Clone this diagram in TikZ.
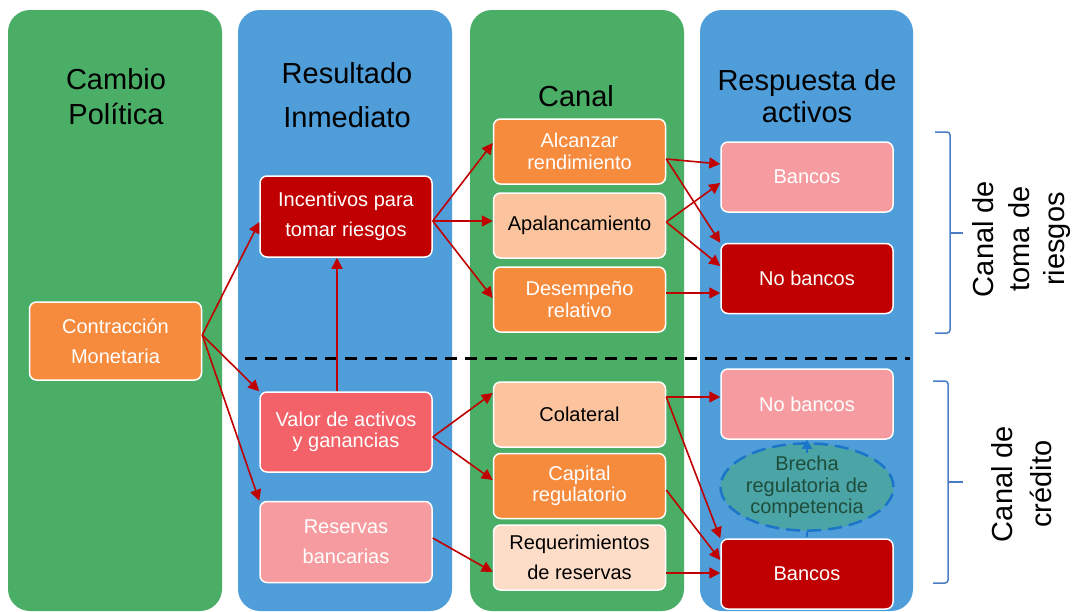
\documentclass[tikz,border=0pt]{standalone}
\usepackage{fontspec}
\setmainfont{Liberation Sans}
\usetikzlibrary{arrows.meta,shapes.geometric}
\definecolor{cgreen}{HTML}{4BAE66}
\definecolor{cblue}{HTML}{4F9DD9}
\definecolor{corange}{HTML}{F68B3E}
\definecolor{cdark}{HTML}{C00000}
\definecolor{csalmon}{HTML}{F26268}
\definecolor{cpink}{HTML}{F69CA0}
\definecolor{cpeach}{HTML}{FBC49E}
\definecolor{clpeach}{HTML}{FDDDC8}
\definecolor{cteal}{HTML}{4BA4A6}
\definecolor{cdash}{HTML}{1B75C9}
\definecolor{cetext}{HTML}{1E4E3B}
\definecolor{cbrace}{HTML}{4A7EC4}
\begin{document}
\begin{tikzpicture}[x=1pt,y=-1pt,
  column/.style={rounded corners=22pt},
  box/.style={rectangle, rounded corners=7pt, draw=white, line width=1.5pt,
    minimum width=172pt, inner sep=1pt, align=center, text=white},
  wide/.style={font=\fontsize{20}{30}\selectfont},
  tight/.style={font=\fontsize{20}{21.5}\selectfont},
  title/.style={font=\fontsize{29}{35}\selectfont, anchor=base},
  side/.style={font=\fontsize{29}{35}\selectfont, anchor=base, rotate=90},
  arr/.style={draw=cdark, line width=1.6pt, -{Triangle[length=11pt,width=11pt]}},
  barr/.style={draw=cdash, line width=2.5pt, -{Triangle[length=9pt,width=10pt]}},
  brace/.style={draw=cbrace, line width=1.5pt, rounded corners=3pt}
]
\useasboundingbox (0,0) rectangle (1074,611);
\fill[white] (0,0) rectangle (1074,611);

% columns
\fill[cgreen, column] (8,10) rectangle (222,611);
\fill[cblue, column] (238,10) rectangle (452,611);
\fill[cgreen, column] (470,10) rectangle (684,611);
\fill[cblue, column] (700,10) rectangle (913,611);

% titles
\node[title] (t1a) at (116,89) {Cambio};
\node[title] (t1b) at (116,124) {Política};
\node[title] (t2a) at (347,83) {Resultado};
\node[title] (t2b) at (347,127) {Inmediato};
\node[title] (t3a) at (576,106) {Canal};
\node[title] (t4a) at (807,90) {Respuesta de};
\node[title] (t4b) at (807,122) {activos};

% dashed separator
\draw[black, line width=3pt, dash pattern=on 12pt off 8pt] (245,358) -- (910,358);

% boxes
\node[box, wide, fill=corange, minimum height=78pt] (ctr) at (115.5,341) {Contracción\\Monetaria};
\node[box, wide, fill=cdark, minimum height=81pt] (inc) at (346,216.5) {Incentivos para\\tomar riesgos};
\node[box, tight, fill=csalmon, minimum height=80pt] (val) at (346,432) {Valor de activos\\y ganancias};
\node[box, wide, fill=cpink, minimum height=81pt] (res) at (346,542) {Reservas\\bancarias};

\node[box, tight, fill=corange, minimum height=65pt] (alc) at (579.5,151.5) {Alcanzar\\rendimiento};
\node[box, tight, fill=cpeach, text=black, minimum height=65pt] (apa) at (579.5,225.5) {Apalancamiento};
\node[box, tight, fill=corange, minimum height=65pt] (des) at (579.5,299.5) {Desempeño\\relativo};
\node[box, tight, fill=cpeach, text=black, minimum height=65pt] (col) at (579.5,414.5) {Colateral};
\node[box, tight, fill=corange, minimum height=65pt] (cap) at (579.5,486) {Capital\\regulatorio};
\node[box, wide, fill=clpeach, text=black, minimum height=65pt] (req) at (579.5,557.5) {Requerimientos\\de reservas};

\node[box, tight, fill=cpink, minimum height=70pt] (ban1) at (807,177) {Bancos};
\node[box, tight, fill=cdark, minimum height=70pt] (nob1) at (807,278.5) {No bancos};
\node[box, tight, fill=cpink, minimum height=70pt] (nob2) at (807,404) {No bancos};
\node[box, tight, fill=cdark, minimum height=70pt] (ban2) at (807,574) {Bancos};

% gap ellipse and blue arrow
\node[ellipse, fill=cteal, draw=cdash, line width=2.5pt, dash pattern=on 14pt off 7pt,
  minimum width=171pt, minimum height=80pt, inner sep=0pt, align=center, text=cetext,
  tight] (gap) at (807,487) {Brecha\\regulatoria de\\competencia};
\draw[barr] ([yshift=-11pt]gap.north) -- (nob2.south);
\draw[draw=cdash, line width=2.5pt] (gap.south) -- ([yshift=-5pt]gap.south);

% red arrows
\draw[arr] ([yshift=6pt]ctr.east) -- ([yshift=-5.5pt]inc.west);
\draw[arr] ([yshift=6pt]ctr.east) -- (val.north west);
\draw[arr] ([yshift=6pt]ctr.east) -- (res.north west);
\draw[arr] ([xshift=-9pt]val.north) -- ([xshift=-9pt]inc.south);
\draw[arr] ([yshift=-4.5pt]inc.east) -- ([yshift=8.5pt]alc.west);
\draw[arr] ([yshift=-4.5pt]inc.east) -- ([yshift=4.5pt]apa.west);
\draw[arr] ([yshift=-4.5pt]inc.east) -- ([yshift=1.5pt]des.west);
\draw[arr] ([yshift=-7.5pt]alc.east) -- ([yshift=13pt]ban1.west);
\draw[arr] ([yshift=-7.5pt]alc.east) -- (nob1.north west);
\draw[arr] ([yshift=3.5pt]apa.east) -- ([yshift=-6pt]ban1.west);
\draw[arr] ([yshift=3.5pt]apa.east) -- ([yshift=12.5pt]nob1.west);
\draw[arr] ([yshift=6.5pt]des.east) -- ([yshift=-14.5pt]nob1.west);
\draw[arr] ([yshift=-5pt]val.east) -- ([yshift=21.5pt]col.west);
\draw[arr] ([yshift=-5pt]val.east) -- ([yshift=6pt]cap.west);
\draw[arr] ([yshift=4pt]res.east) -- ([yshift=-14.5pt]req.west);
\draw[arr] ([yshift=17.5pt]col.east) -- ([yshift=7pt]nob2.west);
\draw[arr] ([yshift=17.5pt]col.east) -- (ban2.north west);
\draw[arr] ([yshift=-4pt]cap.east) -- ([yshift=14pt]ban2.west);
\draw[arr] ([yshift=-15.5pt]req.east) -- ([yshift=1pt]ban2.west);

% braces
\draw[brace] (935,132) -- (950,132) -- (950,333) -- (935,333);
\draw[brace] (950,233) -- (963,233);
\draw[brace] (933,381) -- (948,381) -- (948,583) -- (933,583);
\draw[brace] (948,482) -- (963,482);

% side labels
\node[side] (s1a) at (993,239) {Canal de};
\node[side] (s1b) at (1029,239) {toma de};
\node[side] (s1c) at (1064,239) {riesgos};
\node[side] (s2a) at (1012,484) {Canal de};
\node[side] (s2b) at (1051,484) {crédito};
\end{tikzpicture}
\end{document}
